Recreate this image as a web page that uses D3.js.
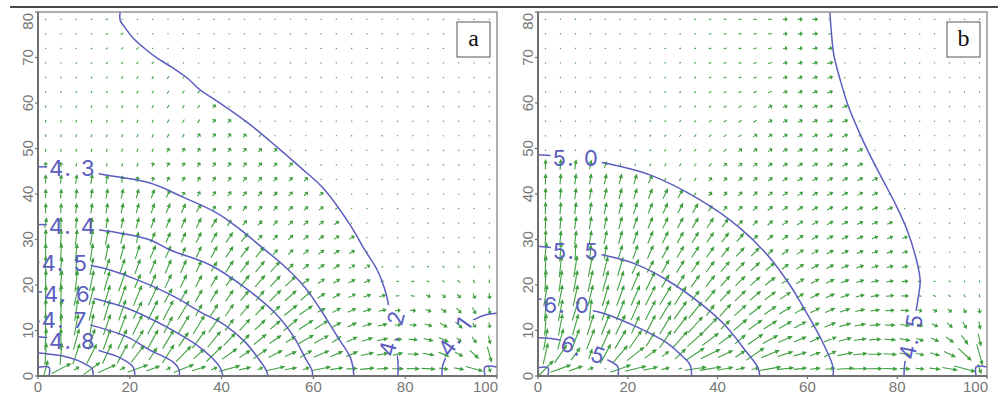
<!DOCTYPE html>
<html>
<head>
<meta charset="utf-8">
<script src="https://cdn.jsdelivr.net/npm/d3@7"></script>
<style>
  body { margin: 0; background: #fff; }
  svg { display: block; }
  .tickLabel { font-family: "Liberation Sans", Arial, sans-serif; font-size: 15px; fill: #777; }
  .contourLabel { font-family: Inter, Lato, "DejaVu Sans", sans-serif; font-size: 22px; font-weight: 400; letter-spacing: 2px; }
</style>
</head>
<body>
<svg class="chartSVG" width="1008" height="394"></svg>
<script>
// domain of both panels
const W = 100, H = 80;
const xTicks = [0, 20, 40, 60, 80, 100];
const yTicks = [0, 10, 20, 30, 40, 50, 60, 70, 80];
const nCols = 30, nRows = 25;

// contour lines (level, points in data units)
const contoursA = [
  {level: 5.0, pts: [[0, 1.9], [2.4, 1.9], [2.4, 0]]},
  {level: 4.9, pts: [[0, 5.05], [2.6, 4.8], [5.4, 4.4], [8.5, 3.5], [10.7, 2.4], [11.8, 1.6], [12, 0]]},
  {level: 4.8, pts: [[0, 8.6], [3, 8.3], [7.6, 7.6], [11, 6.5], [14.2, 5.3], [17.9, 4.0], [20.7, 2.0], [21.1, 0]]},
  {level: 4.7, pts: [[0, 12], [5.9, 12], [9.5, 11.6], [12.9, 10.8], [19.4, 8.6], [24.4, 5.7], [29.4, 3.1], [30.7, 1.5], [30.8, 0]]},
  {level: 4.6, pts: [[0, 18.5], [6.5, 18.1], [10, 17.6], [13.5, 16.7], [19.4, 14.9], [25.1, 12.3], [30.3, 9.5], [34.6, 6.8], [37.9, 4.0], [39.7, 1.8], [40.3, 0]]},
  {level: 4.5, pts: [[0, 25], [5.9, 24.8], [9.5, 24.5], [12.9, 24.0], [15.7, 23.3], [20.7, 21.5], [25.9, 19.3], [30.3, 17.1], [35.3, 14.1], [40.7, 11.2], [45.1, 7.5], [47.9, 4.0], [49.7, 1.3], [50.1, 0]]},
  {level: 4.4, pts: [[0, 33.3], [7.6, 33], [13.5, 32.1], [19, 31.2], [24.4, 29.9], [28.8, 27.7], [37.5, 24.4], [45, 19.5], [51.5, 14], [55.8, 8.5], [58.2, 4], [59.7, 1.2], [59.8, 0]]},
  {level: 4.3, pts: [[0, 46], [7.6, 45.7], [13.5, 44.4], [24.4, 42.4], [31.6, 39.3], [39, 35.8], [43.4, 32.7], [49, 28.1], [53.5, 24.3], [57.1, 20.7], [59.7, 17.4], [63, 12.3], [65.4, 8.4], [68, 4.2], [68.6, 2], [68.8, 0]]},
  {level: 4.2, pts: [[17.9, 80], [17.9, 78.2], [19, 76.5], [20.7, 74.3], [23.7, 71.6], [25.9, 69.9], [29.4, 67.7], [32.5, 65.5], [35.3, 62.9], [38.6, 60.7], [45.5, 55.8], [52.1, 50.3], [57.1, 45.9], [62.1, 41.3], [68, 33.2], [71.2, 27.7], [73.9, 23.3], [75.6, 18.9], [76.3, 16], [77.1, 10.5], [77.8, 6.5], [78.4, 3.5], [78.4, 0]]},
  {level: 4.1, pts: [[88, 0], [88.2, 2.4], [89.1, 4.6], [90.6, 7.8], [92.4, 10.5], [95.2, 12.5], [97.8, 13.5], [100, 13.8]]},
  {level: 4.0, pts: [[97.4, 0], [97.4, 2], [100, 2]]}
];
const labelsA = [
  {text: '4.3', x: 7.6, y: 45.7, rot: 0},
  {text: '4.4', x: 7.6, y: 33, rot: 0},
  {text: '4.5', x: 5.9, y: 24.8, rot: 0},
  {text: '4.6', x: 6.5, y: 18, rot: 0},
  {text: '4.7', x: 5.9, y: 12.2, rot: 0},
  {text: '4.8', x: 7.6, y: 7.6, rot: 0},
  {text: '4.2', x: 77.1, y: 9.5, rot: -75},
  {text: '4.1', x: 90.9, y: 8.8, rot: -55}
];

// contour lines
const contoursB = [
  {level: 7.0, pts: [[0, 1.8], [2.2, 1.8], [2.2, 0]]},
  {level: 6.5, pts: [[0, 8.4], [4.9, 7.9], [10.2, 5.7], [14, 4.2], [16, 3.3], [17.8, 2.0], [17.8, 0]]},
  {level: 6.0, pts: [[0, 17], [6.5, 15.8], [10, 14.8], [14.5, 13.8], [22, 10.8], [28.7, 7.3], [32, 4.5], [33.9, 2.4], [34.2, 0]]},
  {level: 5.5, pts: [[0, 28.5], [8.5, 27.6], [14.5, 26.6], [21.2, 24.8], [28.7, 21.1], [36.1, 16], [41.6, 11.2], [46.1, 5.7], [49, 1.8], [49.4, 0]]},
  {level: 5.0, pts: [[0, 48.6], [8.5, 47.9], [14.9, 46.8], [24.9, 44.2], [36.1, 38.7], [45, 32.5], [51.7, 25.9], [56.1, 20], [58.4, 16.3], [62.8, 8.6], [65.7, 2.0], [65.7, 0]]},
  {level: 4.5, pts: [[65, 80], [65.3, 76], [65.9, 70.5], [67.3, 65.1], [69, 59.6], [71.3, 54.1], [73.9, 48.6], [76.8, 43.1], [79.7, 37.6], [82.2, 32.1], [84, 26.6], [85.1, 21.1], [84.6, 16.7], [83.1, 8.8], [81.7, 2.9], [81.5, 0]]},
  {level: 4.0, pts: [[97.6, 0], [97.6, 2], [100, 2]]}
];
const labelsB = [
  {text: '5.0', x: 8.5, y: 47.9, rot: 0},
  {text: '5.5', x: 8.5, y: 27.5, rot: 0},
  {text: '6.0', x: 6.5, y: 15.6, rot: 0},
  {text: '6.5', x: 10.2, y: 5.7, rot: 20},
  {text: '4.5', x: 83.1, y: 8.8, rot: -78}
];

const panels = [
  {name: 'a', contours: contoursA, labels: labelsA, left: 38, right: 497, top: 12, bottom: 376},
  {name: 'b', contours: contoursB, labels: labelsB, left: 538, right: 987, top: 12, bottom: 376}
];

const svg = d3.select('svg.chartSVG');
const defs = svg.append('defs');
const lineCol = '#5b5dbf';
const arrowCol = '#40a040';

// page rule at the very top
svg.append('line')
  .attr('x1', 10).attr('x2', 998).attr('y1', 7).attr('y2', 7)
  .style('stroke', '#4a4a4a').style('stroke-width', 2);

// head field fixed on the contour lines, relaxed in between (no-flow edges)
function solveHead(contours, step){
  const nx = Math.round(W / step) + 1, ny = Math.round(H / step) + 1;
  const h = new Float64Array(nx * ny), fixed = new Uint8Array(nx * ny);
  h.fill(d3.mean(contours, c => c.level));
  contours.forEach(c => {
    for (let k = 0; k < c.pts.length - 1; k++){
      const [x0, y0] = c.pts[k], [x1, y1] = c.pts[k + 1];
      const n = Math.ceil(Math.hypot(x1 - x0, y1 - y0) / (step * 0.25)) + 1;
      for (let s = 0; s <= n; s++){
        const t = s / n;
        const i = Math.round((x0 + (x1 - x0) * t) / step);
        const j = Math.round((y0 + (y1 - y0) * t) / step);
        h[j * nx + i] = c.level;
        fixed[j * nx + i] = 1;
      }
    }
  });
  for (let it = 0; it < 1800; it++){
    for (let j = 0; j < ny; j++){
      const jd = j > 0 ? j - 1 : 1, ju = j < ny - 1 ? j + 1 : ny - 2;
      for (let i = 0; i < nx; i++){
        const idx = j * nx + i;
        if (fixed[idx]) continue;
        const il = i > 0 ? i - 1 : 1, ir = i < nx - 1 ? i + 1 : nx - 2;
        const avg = (h[j * nx + il] + h[j * nx + ir] + h[jd * nx + i] + h[ju * nx + i]) / 4;
        h[idx] += 1.9 * (avg - h[idx]);
      }
    }
  }
  return {h, nx, ny, step};
}

function sample(f, x, y){
  const gx = Math.max(0, Math.min(f.nx - 1.0001, x / f.step));
  const gy = Math.max(0, Math.min(f.ny - 1.0001, y / f.step));
  const i = Math.floor(gx), j = Math.floor(gy), tx = gx - i, ty = gy - j;
  const a = f.h[j * f.nx + i], b = f.h[j * f.nx + i + 1];
  const c = f.h[(j + 1) * f.nx + i], d = f.h[(j + 1) * f.nx + i + 1];
  return a * (1 - tx) * (1 - ty) + b * tx * (1 - ty) + c * (1 - tx) * ty + d * tx * ty;
}

function drawPanel(p){
  const x = d3.scaleLinear().domain([0, W]).range([p.left, p.right]);
  const y = d3.scaleLinear().domain([0, H]).range([p.bottom, p.top]);
  const g = svg.append('g').attr('class', 'panel panel-' + p.name);

  defs.append('clipPath').attr('id', 'clip-' + p.name)
    .append('rect')
    .attr('x', p.left).attr('y', p.top)
    .attr('width', p.right - p.left).attr('height', p.bottom - p.top);

  // velocity arrows
  const field = solveHead(p.contours, 0.5);
  const cells = [];
  for (let j = 0; j < nRows; j++){
    for (let i = 0; i < nCols; i++){
      const cx = (i + 0.5) * W / nCols, cy = (j + 0.5) * H / nRows;
      const d = 1;
      const vx = -(sample(field, cx + d, cy) - sample(field, cx - d, cy)) / (2 * d);
      const vy = -(sample(field, cx, cy + d) - sample(field, cx, cy - d)) / (2 * d);
      cells.push({cx, cy, vx, vy, m: Math.hypot(vx, vy)});
    }
  }
  const mags = cells.map(c => c.m).sort(d3.ascending);
  const gRef = d3.quantile(mags, 0.85);
  const lenScale = d3.scalePow().exponent(1.3).domain([0, gRef]).range([0, 14]);

  const arrowPath = c => {
    const L = Math.max(1.3, Math.min(21, lenScale(c.m)));
    let ux = c.vx * (x(1) - x(0)), uy = c.vy * (y(1) - y(0));
    const n = Math.hypot(ux, uy) || 1;
    ux /= n; uy /= n;
    const px = x(c.cx), py = y(c.cy);
    const tx = px - ux * L / 2, ty = py - uy * L / 2;
    const hx = px + ux * L / 2, hy = py + uy * L / 2;
    let s = `M${tx},${ty}L${hx},${hy}`;
    if (L > 4){
      const hl = Math.min(3, L * 0.3), hw = 1.3;
      const bx = hx - ux * hl, by = hy - uy * hl;
      s += `M${hx},${hy}L${bx - uy * hw},${by + ux * hw}L${bx + uy * hw},${by - ux * hw}Z`;
    }
    return s;
  };

  g.append('g')
    .attr('class', 'arrows')
    .attr('clip-path', `url(#clip-${p.name})`)
    .selectAll('path')
    .data(cells)
    .enter()
    .append('path')
    .attr('d', arrowPath)
    .style('stroke', arrowCol)
    .style('stroke-width', 1.1)
    .style('fill', arrowCol);

  const line = d3.line()
    .x(d => x(d[0]))
    .y(d => y(d[1]))
    .curve(d3.curveCatmullRom.alpha(0.5));

  const contourG = g.append('g')
    .attr('class', 'contours')
    .attr('clip-path', `url(#clip-${p.name})`)
    .append('g')
    .attr('mask', `url(#mask-${p.name})`);

  contourG.selectAll('path')
    .data(p.contours)
    .enter()
    .append('path')
    .attr('d', d => line(d.pts))
    .style('fill', 'none')
    .style('stroke', lineCol)
    .style('stroke-width', 1.5);

  const labelSel = g.append('g')
    .attr('class', 'contourLabels')
    .selectAll('text')
    .data(p.labels)
    .enter()
    .append('text')
    .attr('class', 'contourLabel')
    .attr('transform', d => `translate(${x(d.x)},${y(d.y)}) rotate(${d.rot})`)
    .attr('text-anchor', 'middle')
    .attr('dy', '0.36em')
    .text(d => d.text.replace('.', '. '))
    .style('fill', lineCol);

  // mask: the contour lines break behind each label box
  const mask = defs.append('mask').attr('id', 'mask-' + p.name)
    .attr('maskUnits', 'userSpaceOnUse')
    .attr('x', 0).attr('y', 0).attr('width', 1008).attr('height', 394);
  mask.append('rect').attr('x', 0).attr('y', 0).attr('width', 1008).attr('height', 394).style('fill', '#fff');
  labelSel.each(function(d){
    const bb = this.getBBox();
    mask.append('rect')
      .attr('transform', `translate(${x(d.x)},${y(d.y)}) rotate(${d.rot})`)
      .attr('x', bb.x - 2).attr('y', bb.y + 2)
      .attr('width', bb.width + 4).attr('height', bb.height - 4)
      .style('fill', '#000');
  });

  // frame
  g.append('rect')
    .attr('x', p.left).attr('y', p.top)
    .attr('width', p.right - p.left).attr('height', p.bottom - p.top)
    .style('fill', 'none').style('stroke', '#8c8c8c').style('stroke-width', 1.4);
  g.append('path')
    .attr('d', `M${p.left},${p.top}V${p.bottom}H${p.right}`)
    .style('fill', 'none').style('stroke', '#707070').style('stroke-width', 2);

  // y axis
  const yAx = g.append('g').attr('class', 'yAxis');
  yAx.selectAll('line')
    .data(yTicks).enter().append('line')
    .attr('x1', p.left - 3).attr('x2', p.left)
    .attr('y1', d => y(d)).attr('y2', d => y(d))
    .style('stroke', '#707070').style('stroke-width', 1.2);
  yAx.selectAll('text')
    .data(yTicks).enter().append('text')
    .attr('class', 'tickLabel')
    .attr('transform', d => `translate(${p.left - 5},${d === H ? y(d) + 1 : y(d)}) rotate(-90)`)
    .attr('text-anchor', d => d === H ? 'end' : 'middle')
    .text(d => d);

  // x axis
  const xAx = g.append('g').attr('class', 'xAxis');
  xAx.selectAll('line')
    .data(xTicks).enter().append('line')
    .attr('x1', d => x(d)).attr('x2', d => x(d))
    .attr('y1', p.bottom).attr('y2', p.bottom + 3)
    .style('stroke', '#707070').style('stroke-width', 1.2);
  xAx.selectAll('text')
    .data(xTicks).enter().append('text')
    .attr('class', 'tickLabel')
    .attr('x', d => d === W ? x(d) + 1 : x(d))
    .attr('y', p.bottom + 16)
    .attr('text-anchor', d => d === W ? 'end' : 'middle')
    .text(d => d);

  // panel letter
  const bx = p.right - 40;
  g.append('rect')
    .attr('x', bx).attr('y', 22).attr('width', 33).attr('height', 35)
    .style('fill', '#fff').style('stroke', '#555').style('stroke-width', 1);
  g.append('text')
    .attr('x', bx + 16.5).attr('y', 46)
    .attr('text-anchor', 'middle')
    .style('font-family', '"Liberation Serif", "Times New Roman", serif')
    .style('font-size', '24px')
    .style('fill', '#111')
    .text(p.name);
}

panels.forEach(drawPanel);
</script>
</body>
</html>
